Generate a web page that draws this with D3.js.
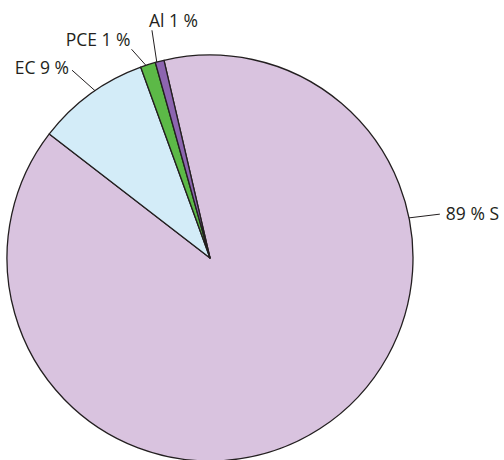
<!DOCTYPE html>
<html>
<head>
<meta charset="utf-8">
<script src="https://cdn.jsdelivr.net/npm/d3@7"></script>
<style>
  body { margin: 0; background: #fff; }
  svg text { font-family: "Open Sans", "Noto Sans", sans-serif; fill: #231f20; }
</style>
</head>
<body>
<div id="chart"></div>
<script>
// shares
var names = ["S", "EC", "PCE", "Al"];
var values = [89.1, 9.0, 1.2, 0.7];
var labels = ["89 % S", "EC 9 %", "PCE 1 %", "Al 1 %"];
var colors = ["#d9c3df", "#d3ecf8", "#5cb947", "#8c65b0"];

var slices = names.map(function(n, i) {
    return {name: n, value: values[i], label: labels[i], color: colors[i]};
});

var screen = {width: 504, height: 460};
var center = {x: 210, y: 258};
var radius = 203;
var startDeg = -13.1;

// leader line layout: angle at pie edge, angle at outer end, outer radius, text offset
var leaders = {
    S:   {a0: 78.6,  a1: 79.2,  r1: 234, dx: 6,  dy: 6,  anchor: "start"},
    EC:  {a0: -34.5, a1: -36.3, r1: 233, dx: -3, dy: 4,  anchor: "end"},
    PCE: {a0: -18.4, a1: -20.6, r1: 223, dx: -1, dy: -3, anchor: "end"},
    Al:  {a0: -15.2, a1: -14.3, r1: 235, dx: -3, dy: -3, anchor: "start"}
};

var rad = function(d) { return d * Math.PI / 180; };
var polar = function(angleDeg, r) {
    return [Math.sin(rad(angleDeg)) * r, -Math.cos(rad(angleDeg)) * r];
};

var svg = d3.select("#chart")
    .append("svg")
    .attr("width", screen.width)
    .attr("height", screen.height);

var g = svg.append("g")
    .attr("transform", "translate(" + center.x + "," + center.y + ")");

var pie = d3.pie()
    .sort(null)
    .value(function(d) { return d.value; })
    .startAngle(rad(startDeg))
    .endAngle(rad(startDeg) + 2 * Math.PI);

var arc = d3.arc()
    .innerRadius(0)
    .outerRadius(radius);

g.selectAll("path.slice")
    .data(pie(slices))
    .enter()
    .append("path")
    .attr("class", "slice")
    .attr("d", arc)
    .attr("fill", function(d) { return d.data.color; })
    .attr("stroke", "#231f20")
    .attr("stroke-width", 1.3)
    .attr("stroke-linejoin", "round");

// leader lines and labels
slices.forEach(function(s) {
    var L = leaders[s.name];
    var p0 = polar(L.a0, radius);
    var p1 = polar(L.a1, L.r1);
    g.append("line")
        .attr("x1", p0[0]).attr("y1", p0[1])
        .attr("x2", p1[0]).attr("y2", p1[1])
        .attr("stroke", "#231f20")
        .attr("stroke-width", 1);
    g.append("text")
        .attr("x", p1[0] + L.dx)
        .attr("y", p1[1] + L.dy)
        .attr("text-anchor", L.anchor)
        .attr("font-size", 17.5)
        .text(s.label);
});
</script>
</body>
</html>
